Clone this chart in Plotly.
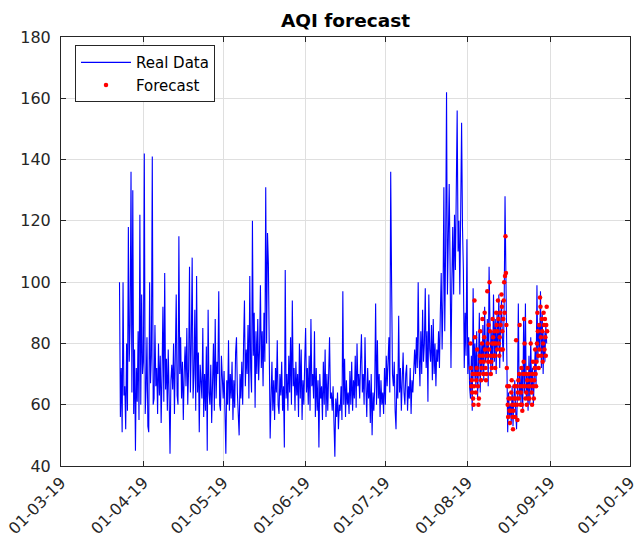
import pandas as pd
import plotly.graph_objects as go

# ---- data (AQI, 3 readings per day, 00h/08h/16h) ----
real_start = "2019-03-23 00:00"
real_mar = [100, 56, 72, 51, 100, 63, 66, 52, 80, 58, 118, 74, 86, 136, 64,
            130, 57, 78, 45, 72, 61, 84, 55, 122, 60, 96, 70]
real_apr = [74, 142, 57, 65, 82, 53, 51, 100, 67, 76, 141, 60, 62, 86, 66,
            72, 57, 80, 63, 76, 54, 70, 92, 61, 103, 65, 75, 58, 78, 63,
            44, 68, 73, 65, 80, 57, 74, 96, 63, 60, 115, 70, 82, 62, 74,
            55, 70, 79, 66, 85, 60, 72, 105, 64, 80, 108, 62, 70, 91, 58,
            102, 64, 77, 51, 73, 66, 62, 85, 56, 70, 58, 79, 45, 91, 64,
            60, 73, 54, 66, 80, 58, 88, 62, 74, 70, 97, 60, 58, 76, 64]
real_may = [62, 71, 52, 44, 68, 60, 81, 58, 70, 62, 74, 55, 68, 59, 77,
            82, 64, 57, 50, 70, 62, 74, 60, 80, 94, 66, 78, 70, 86, 62,
            102, 72, 64, 120, 76, 90, 59, 84, 70, 88, 68, 78, 99, 72, 84,
            66, 90, 74, 131, 80, 116, 106, 70, 49, 62, 74, 58, 68, 55, 72,
            64, 81, 60, 57, 70, 63, 74, 58, 66, 46, 104, 62, 70, 58, 76,
            64, 82, 60, 94, 66, 72, 58, 74, 63, 70, 56, 80, 62, 78, 55,
            68, 60, 74]
real_jun = [85, 64, 72, 60, 76, 58, 88, 66, 70, 62, 84, 56, 72, 58, 68,
            46, 70, 62, 66, 55, 74, 60, 78, 56, 70, 58, 68, 82, 62, 64,
            58, 66, 54, 43, 62, 56, 64, 52, 60, 58, 66, 55, 97, 60, 75,
            56, 68, 60, 64, 57, 71, 60, 74, 58, 68, 62, 76, 59, 80, 66,
            70, 62, 74, 83, 64, 70, 60, 82, 66, 56, 72, 62, 68, 54, 70,
            50, 64, 58, 66, 93, 60, 81, 62, 70, 56, 68, 60, 64, 57, 72]
real_jul = [60, 76, 66, 72, 82, 64, 136, 100, 70, 66, 74, 58, 52, 70, 62,
            89, 64, 72, 58, 68, 77, 64, 60, 70, 73, 58, 66, 62, 72, 57,
            68, 64, 74, 78, 70, 82, 72, 100, 76, 66, 84, 70, 91, 74, 80,
            98, 72, 84, 61, 96, 78, 74, 86, 68, 88, 70, 80, 66, 78, 74,
            84, 72, 90, 103, 78, 94, 131, 84, 112, 162, 96, 120, 132, 106, 72,
            100, 118, 96, 122, 104, 126, 156, 110, 120, 96, 130, 152, 118, 104, 72,
            90, 76, 114]
real_aug = [70, 82, 66, 62, 76, 58, 98, 68, 80, 66, 84, 62, 72, 90, 64,
            80, 70, 86, 68, 92, 74, 76, 88, 66, 105, 78, 70, 84, 72, 96,
            74, 88, 70, 90, 78, 96, 72, 86, 94, 82, 74, 92, 128, 102, 62,
            51, 64, 56, 60, 54, 66, 53, 62, 68, 58, 52, 64, 93, 62, 70,
            60, 72, 58, 88, 64, 93, 62, 70, 58, 76, 60, 82, 64, 72, 60,
            70, 78, 66, 99, 74, 86, 78, 97, 72, 90, 70, 84, 74, 86, 80]

# forecast: 6 values per day (every 4 h) from 2 Aug
fc_start = "2019-08-02 00:00"
forecast_aug = [80, 72, 66, 68, 64, 70, 62, 60, 66, 94, 82, 70,
                64, 68, 72, 78, 70, 66, 60, 62, 70, 76, 84, 74,
                68, 72, 80, 88, 76, 70, 74, 82, 90, 78, 72, 68,
                70, 76, 97, 80, 74, 86, 78, 100, 84, 76, 70, 74,
                72, 80, 88, 82, 76, 80, 84, 76, 72, 80, 90, 86,
                78, 84, 94, 88, 80, 76, 82, 90, 86, 78, 96, 92,
                84, 78, 88, 94, 100, 90, 102, 115, 103, 86, 72, 66,
                60, 56, 62, 66, 58, 54, 62, 58, 64, 68, 60, 56,
                52, 58, 62, 66, 60, 56, 62, 81, 66, 60, 55, 64,
                68, 62, 70, 86, 66, 60, 64, 72, 60, 58, 66, 70,
                74, 88, 80, 66, 62, 70, 64, 60, 68, 72, 62, 66,
                70, 62, 66, 87, 80, 68, 64, 60, 70, 74, 66, 62,
                68, 72, 78, 70, 66, 74, 80, 90, 84, 76, 72, 86,
                78, 95, 92, 82, 76, 88, 84, 74, 80, 90, 86, 78,
                88, 82, 76, 86, 92, 84]

tick_dates = ["2019-03-01", "2019-04-01", "2019-05-01", "2019-06-01",
              "2019-07-01", "2019-08-01", "2019-09-01", "2019-10-01"]
tick_labels = ["01-03-19", "01-04-19", "01-05-19", "01-06-19",
               "01-07-19", "01-08-19", "01-09-19", "01-10-19"]
y_ticks = [40, 60, 80, 100, 120, 140, 160, 180]

real_values = real_mar + real_apr + real_may + real_jun + real_jul + real_aug
real_times = pd.date_range(real_start, periods=len(real_values), freq="8h")
fc_times = pd.date_range(fc_start, periods=len(forecast_aug), freq="4h")

FONT = "DejaVu Sans"
AX = "#262626"
GRID = "#dfdfdf"

fig = go.Figure()
fig.add_trace(go.Scatter(x=real_times, y=real_values, mode="lines",
                         name="Real Data",
                         line=dict(color="#0000ff", width=1.1)))
fig.add_trace(go.Scatter(x=fc_times, y=forecast_aug, mode="markers",
                         name="Forecast",
                         marker=dict(color="#ff0000", size=4.5)))

axis_common = dict(showline=True, linecolor=AX, linewidth=1, mirror="ticks",
                   ticks="inside", ticklen=5, tickcolor=AX, automargin=False,
                   showgrid=True, gridcolor=GRID, gridwidth=1, zeroline=False,
                   tickfont=dict(family=FONT, size=16, color=AX))

fig.update_layout(
    width=641, height=541,
    margin=dict(l=61, r=11, t=37, b=75, autoexpand=False),
    paper_bgcolor="white", plot_bgcolor="white",
    title=dict(text="<b>AQI forecast</b>", x=345.5 / 641, xanchor="center",
               y=1 - 21 / 541, yanchor="middle",
               font=dict(family=FONT, size=18.5, color="black")),
    xaxis=dict(range=["2019-03-01", "2019-10-01"], tickvals=tick_dates,
               ticktext=tick_labels, tickangle=-45, **axis_common),
    yaxis=dict(range=[40, 180], tickvals=y_ticks, ticklabelstandoff=6,
               **axis_common),
    legend=dict(x=0.0246, y=0.981, xanchor="left", yanchor="top",
                bgcolor="white", bordercolor=AX, borderwidth=1,
                font=dict(family=FONT, size=15, color="black"),
                itemwidth=50),
    showlegend=True,
)

fig.write_html("out.html")
